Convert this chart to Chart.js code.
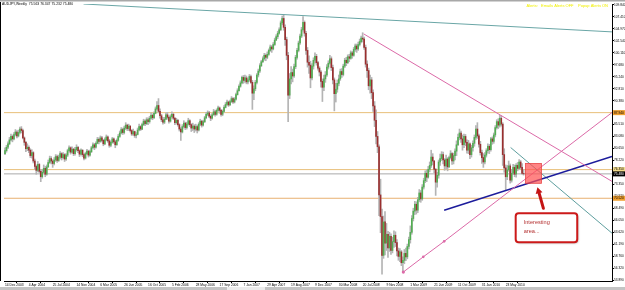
<!DOCTYPE html>
<html>
<head>
<meta charset="utf-8">
<script src="https://cdn.jsdelivr.net/npm/chart.js@4.4.0/dist/chart.umd.min.js"></script>
<style>
    html, body { margin: 0; padding: 0; background: #fff; }
    #myChart { display: block; }
</style>
</head>
<body>
<canvas id="myChart" width="625" height="290"></canvas>
<script>
'use strict'

// x tick labels, one every 16 weekly bars
var weekLabels = ['14 Dec 2003', '4 Apr 2004', '25 Jul 2004', '14 Nov 2004', '6 Mar 2005', '26 Jun 2005',
    '16 Oct 2005', '5 Feb 2006', '28 May 2006', '17 Sep 2006', '7 Jan 2007', '29 Apr 2007', '19 Aug 2007',
    '9 Dec 2007', '30 Mar 2008', '20 Jul 2008', '9 Nov 2008', '1 Mar 2009', '21 Jun 2009', '11 Oct 2009',
    '31 Jan 2010', '23 May 2010'];

var priceTicks = [109.840, 107.410, 104.970, 102.540, 100.110, 97.680, 95.240, 92.810, 90.380, 87.950,
    85.510, 83.080, 80.650, 78.220, 75.780, 73.350, 70.920, 68.490, 66.050, 63.620, 61.190, 58.760,
    56.320, 53.890];

// AUDJPY weekly candles (open of a week = close of the week before)
var firstOpen = 79.6;
var closes = [
    80.2, 80.9, 81.6, 82.4, 83.1, 82.6, 83.5, 84.0, 83.2, 83.9, 84.6, 84.3, 82.8, 81.9, 80.6, 80.9,
    80.3, 79.2, 79.8, 78.1, 77.0, 76.2, 77.4, 76.0, 74.9, 75.8, 76.6, 75.4, 76.9, 77.8, 78.6, 78.1,
    77.6, 78.3, 79.0, 78.2, 78.9, 79.6, 78.8, 79.4, 78.5, 79.3, 80.2, 80.8, 79.9, 80.5, 79.6, 80.4,
    80.9, 80.2, 79.5, 80.3, 79.4, 78.7, 79.6, 80.1, 79.3, 80.0, 80.8, 81.4, 80.9, 81.7, 82.5, 82.1,
    82.8, 82.3, 81.6, 82.4, 83.0, 82.2, 81.3, 81.9, 82.6, 82.0, 81.4, 82.3, 83.1, 83.8, 84.5, 83.9,
    84.8, 85.4, 84.7, 85.2, 84.3, 83.6, 84.1, 83.3, 83.5, 84.4, 85.1, 84.6, 85.5, 86.2, 85.7, 86.5,
    86.1, 86.8, 87.4, 86.9, 87.8, 88.7, 89.4, 88.2, 87.3, 86.5, 86.0, 86.6, 87.5, 87.0, 86.2, 87.1,
    87.6, 86.8, 85.9, 86.4, 85.5, 84.6, 84.0, 85.1, 85.8, 84.9, 85.6, 86.3, 85.5, 84.8, 85.2, 84.6,
    85.1, 84.4, 85.6, 86.2, 85.4, 86.1, 86.9, 87.6, 87.9, 87.2, 86.8, 87.5, 88.1, 87.6, 88.4, 88.9,
    88.4, 87.6, 88.2, 89.0, 89.6, 90.1, 89.5, 90.2, 90.8, 90.1, 90.7, 91.6, 92.4, 93.3, 94.0, 95.1,
    94.5, 95.0, 94.2, 94.6, 95.3, 94.1, 91.9, 92.8, 94.1, 95.6, 96.4, 97.5, 98.3, 98.9, 99.6, 99.2,
    99.8, 100.6, 101.3, 100.9, 101.8, 102.7, 103.4, 104.1, 104.8, 106.2, 107.1, 105.3, 102.8, 99.6, 91.5, 94.8,
    96.1, 95.4, 97.3, 99.2, 100.6, 102.1, 103.5, 104.8, 106.3, 104.1, 100.6, 98.2, 97.6, 95.0, 97.4, 98.6,
    99.4, 98.1, 97.0, 96.2, 94.3, 93.1, 94.8, 95.6, 97.2, 98.0, 98.9, 97.1, 94.6, 91.8, 92.7, 93.9,
    94.8, 96.3, 95.7, 97.4, 98.6, 98.1, 99.3, 99.0, 100.1, 99.6, 100.8, 101.5, 100.9, 101.8, 102.4, 103.1,
    102.9, 101.2, 97.8, 96.5, 93.4, 94.6, 92.0, 89.3, 86.4, 83.1, 81.0, 71.2, 66.8, 58.9, 65.7, 61.4,
    63.2, 60.4, 62.8, 59.9, 61.7, 63.0, 61.5, 59.8, 58.7, 59.6, 57.4, 57.9, 59.3, 58.6, 60.7, 62.1,
    63.6, 66.4, 67.9, 69.3, 68.1, 70.2, 71.6, 70.4, 72.8, 74.1, 75.6, 74.8, 76.4, 77.2, 78.9, 78.1,
    76.4, 73.8, 75.2, 77.9, 78.6, 79.4, 78.3, 77.1, 78.5, 76.9, 78.8, 79.6, 78.1, 79.2, 80.1, 81.4,
    82.9, 83.8, 82.6, 81.4, 83.1, 81.9, 80.3, 81.6, 79.4, 80.8, 81.7, 82.9, 84.6, 83.2, 81.5, 79.8,
    78.8, 77.9, 79.3, 80.2, 81.1, 80.4, 82.6, 82.1, 83.4, 84.9, 86.1, 85.4, 86.8, 85.6, 79.4, 76.7,
    74.9, 76.3, 77.1, 74.2, 75.6, 76.8, 75.4, 77.2, 76.6, 77.9, 76.8, 75.56, 75.48];
var highs = [
    80.8, 81.3, 82.0, 82.9, 83.6, 83.4, 83.9, 84.5, 84.3, 84.4, 85.0, 85.1, 84.6, 83.0, 82.1, 81.6,
    81.2, 80.6, 80.4, 80.0, 78.5, 77.3, 78.0, 77.6, 76.3, 76.4, 77.3, 77.0, 77.3, 78.3, 79.1, 79.0,
    78.4, 78.8, 79.4, 79.3, 79.3, 80.0, 79.8, 79.8, 79.6, 79.6, 80.5, 81.2, 81.0, 81.0, 80.7, 80.9,
    81.4, 81.1, 80.4, 80.6, 80.4, 79.6, 79.9, 80.5, 80.3, 80.3, 81.1, 81.8, 81.7, 82.0, 82.9, 82.8,
    83.2, 83.1, 82.5, 82.8, 83.4, 83.2, 82.5, 82.2, 82.9, 82.8, 82.3, 82.6, 83.5, 84.2, 84.9, 84.8,
    85.2, 85.9, 85.6, 85.6, 85.3, 84.5, 84.6, 84.2, 83.9, 84.8, 85.6, 85.3, 85.8, 86.6, 86.5, 86.9,
    86.9, 87.2, 87.9, 87.7, 88.1, 89.1, 90.2, 90.8, 88.7, 87.6, 87.0, 87.0, 87.9, 88.0, 87.3, 87.5,
    88.1, 87.8, 87.0, 86.8, 86.6, 85.7, 84.9, 85.5, 86.3, 86.0, 86.0, 86.8, 86.5, 85.7, 85.8, 85.5,
    85.6, 85.4, 85.9, 86.6, 86.4, 86.4, 87.2, 88.0, 88.3, 88.2, 87.5, 87.8, 88.6, 88.4, 88.7, 89.3,
    89.1, 88.6, 88.5, 89.4, 90.0, 90.5, 90.3, 90.5, 91.2, 91.0, 91.0, 91.9, 92.8, 93.6, 94.4, 95.4,
    95.5, 95.6, 95.4, 95.0, 95.7, 95.6, 94.5, 93.4, 94.5, 95.9, 96.8, 97.9, 98.6, 99.3, 100.0, 99.9,
    100.3, 100.9, 101.7, 101.6, 102.2, 103.1, 103.8, 104.5, 105.2, 106.6, 107.6, 107.8, 105.8, 103.3, 100.2, 95.9,
    97.3, 96.8, 97.8, 99.6, 101.0, 102.5, 103.9, 105.3, 107.5, 106.6, 104.5, 101.2, 99.5, 98.4, 97.9, 99.1,
    100.1, 99.8, 98.4, 97.3, 96.5, 94.8, 95.6, 96.3, 97.7, 98.5, 99.6, 99.3, 97.6, 95.0, 93.9, 94.6,
    95.6, 96.8, 96.9, 97.8, 99.0, 99.2, 99.7, 99.8, 100.5, 100.4, 101.2, 101.9, 101.9, 102.3, 102.9, 103.5,
    104.2, 103.3, 101.7, 98.5, 97.0, 95.6, 95.1, 92.6, 90.2, 88.5, 84.1, 81.4, 74.4, 68.3, 66.9, 67.8,
    65.4, 63.8, 63.6, 63.3, 62.6, 63.9, 63.7, 62.1, 60.4, 60.3, 59.9, 58.6, 60.1, 60.4, 61.2, 62.6,
    64.9, 67.0, 68.5, 69.9, 69.8, 70.7, 72.3, 72.1, 73.3, 74.6, 76.1, 76.3, 77.0, 77.9, 80.3, 79.6,
    78.2, 76.6, 75.8, 78.3, 79.5, 80.0, 79.9, 78.6, 79.3, 78.8, 79.1, 80.2, 79.8, 79.7, 80.6, 82.2,
    83.6, 84.6, 84.2, 83.4, 83.6, 83.5, 82.4, 82.3, 81.8, 81.3, 82.2, 83.4, 85.3, 85.9, 83.6, 82.1,
    80.3, 79.6, 79.8, 80.6, 81.6, 81.5, 82.9, 83.0, 83.8, 85.3, 86.5, 86.7, 87.4, 87.3, 85.9, 80.6,
    77.3, 77.2, 78.1, 77.5, 76.4, 77.4, 77.3, 77.6, 77.8, 78.4, 78.2, 77.6, 76.35];
var lows = [
    79.4, 79.9, 80.6, 81.4, 82.2, 82.0, 82.4, 83.2, 82.8, 83.0, 83.6, 83.8, 82.6, 81.3, 80.0, 80.2,
    79.8, 78.8, 78.7, 77.7, 76.4, 75.4, 75.9, 75.7, 73.9, 74.6, 75.6, 74.9, 75.2, 76.8, 77.6, 77.5,
    76.8, 77.3, 78.0, 77.8, 78.0, 78.5, 78.3, 78.5, 78.0, 78.2, 79.0, 79.9, 79.5, 79.7, 79.2, 79.3,
    80.1, 79.8, 79.0, 79.3, 79.0, 78.3, 78.5, 79.4, 78.9, 79.1, 79.8, 80.6, 80.4, 80.7, 81.6, 81.6,
    81.9, 82.0, 81.2, 81.4, 82.2, 81.9, 80.9, 81.0, 81.7, 81.7, 80.8, 81.3, 82.1, 82.9, 83.6, 83.5,
    83.6, 84.5, 84.3, 84.3, 84.0, 83.3, 83.3, 82.9, 82.8, 83.4, 84.2, 84.3, 84.5, 85.3, 85.3, 85.5,
    85.5, 85.8, 86.6, 86.5, 86.7, 87.7, 88.5, 87.9, 86.8, 86.1, 85.6, 85.7, 86.5, 86.6, 85.8, 86.0,
    86.8, 86.5, 85.5, 85.6, 85.2, 84.2, 82.3, 83.8, 84.8, 84.5, 84.6, 85.4, 85.1, 84.1, 84.3, 83.9,
    84.2, 83.8, 84.2, 85.3, 85.0, 85.2, 85.9, 86.7, 87.3, 86.9, 86.3, 86.6, 87.4, 87.2, 87.4, 88.2,
    87.8, 87.2, 87.3, 88.0, 88.9, 89.4, 89.2, 89.4, 90.0, 89.8, 89.9, 90.5, 91.5, 92.3, 93.1, 93.8,
    93.9, 94.1, 93.8, 93.8, 94.3, 93.9, 88.6, 90.6, 92.4, 93.8, 95.2, 96.1, 97.3, 98.1, 98.6, 98.5,
    98.9, 99.6, 100.4, 100.2, 100.7, 101.6, 102.6, 103.0, 103.9, 104.6, 105.8, 104.7, 101.6, 98.7, 86.1, 90.8,
    93.8, 94.2, 95.1, 96.9, 98.8, 100.3, 101.8, 103.2, 104.5, 103.5, 99.8, 97.2, 95.9, 93.0, 94.6, 96.8,
    98.0, 97.6, 96.6, 95.4, 93.1, 90.2, 92.4, 94.1, 95.3, 96.8, 97.8, 96.5, 93.8, 88.3, 90.1, 92.1,
    93.4, 94.5, 95.1, 95.4, 97.1, 97.5, 97.9, 98.3, 98.8, 99.0, 99.4, 100.4, 100.2, 100.6, 101.5, 102.1,
    102.3, 100.8, 97.2, 95.1, 92.6, 91.9, 90.8, 88.2, 85.1, 81.6, 79.8, 67.0, 63.5, 55.1, 58.3, 59.0,
    59.9, 58.5, 59.7, 59.1, 59.4, 60.5, 60.7, 58.8, 57.9, 57.6, 56.8, 55.5, 57.2, 57.8, 58.2, 60.2,
    61.4, 63.2, 65.9, 67.2, 67.3, 67.6, 69.8, 69.7, 70.1, 72.4, 73.7, 73.9, 74.6, 75.9, 76.8, 77.3,
    75.7, 71.1, 72.8, 74.6, 77.2, 78.2, 77.5, 76.2, 76.5, 76.1, 76.8, 78.5, 77.4, 77.5, 78.3, 79.2,
    81.2, 82.4, 81.9, 80.3, 80.8, 81.2, 79.7, 79.6, 78.6, 78.9, 80.1, 81.1, 82.5, 82.7, 80.9, 79.3,
    77.6, 76.8, 77.5, 78.9, 79.7, 79.6, 80.1, 81.5, 81.7, 83.0, 84.6, 84.7, 85.0, 85.2, 77.2, 75.8,
    72.2, 74.3, 76.0, 73.6, 73.8, 75.3, 74.9, 74.8, 76.1, 76.4, 76.5, 75.4, 75.23];

// horizontal levels: price, colour, start bar
var levelPrices = [87.94, 76.35, 75.48, 70.52];
var levelColors = ['#e8bf7a', '#e8bf7a', '#a9a9a9', '#e8b070'];
var levelLabelColors = ['#f0a030', '#f2dc8c', '#000000', '#f0a030'];

// trend lines as [bar, price] end points
var tealTop = [[52.7, 110.04], [407.3, 104.37]];
var pinkDown = [[240.7, 103.96], [407.3, 73.96]];
var pinkUp = [[267.3, 55.51], [280.7, 58.60], [294.7, 61.75], [407.3, 87.95]];
var navyLine = [[294.7, 68.08], [407.3, 79.03]];
var tealDown = [[339.3, 80.85], [407.3, 63.42]];

// annotations in bar/price units
var zoneBox = [349.3, 360.0, 77.61, 73.56];
var noteBox = [342.7, 384.0, 67.47, 61.59];
var noteArrow = [[361.3, 68.48], [357.3, 72.74]];
var noteText = ['Interesting', 'area...'];

var opens = closes.map(function (c, i) { return i === 0 ? firstOpen : closes[i - 1]; });

var wicks = [], upBodies = [], downBodies = [];
for (var i = 0; i < closes.length; i++) {
    wicks.push({ x: i, y: [lows[i], highs[i]] });
    if (closes[i] >= opens[i]) {
        upBodies.push({ x: i, y: [opens[i], closes[i]] });
    } else {
        downBodies.push({ x: i, y: [closes[i], opens[i]] });
    }
}

function toPts(arr) {
    return arr.map(function (p) { return { x: p[0], y: p[1] }; });
}

var xMin = -0.67, xMax = 407.33;

var datasets = [
    { type: 'bar', data: wicks, backgroundColor: '#b4b4b4', barThickness: 1, grouped: false, order: 3 },
    { type: 'bar', data: upBodies, backgroundColor: '#52ad52', barThickness: 1, grouped: false, order: 2 },
    { type: 'bar', data: downBodies, backgroundColor: '#9a2f2f', barThickness: 1, grouped: false, order: 2 }
];

levelPrices.forEach(function (p, k) {
    datasets.push({
        type: 'line', data: [{ x: xMin, y: p }, { x: xMax, y: p }],
        borderColor: levelColors[k], borderWidth: 1, pointRadius: 0, order: 4
    });
});

function trend(pts, color, width, radius) {
    return {
        type: 'line', data: toPts(pts), borderColor: color, backgroundColor: color,
        borderWidth: width, pointRadius: radius || 0, pointBorderWidth: 0, order: 1
    };
}
datasets.push(trend(tealTop, '#6aa6a6', 1));
datasets.push(trend(pinkDown, '#dc6aa8', 1));
datasets.push(trend(pinkUp, '#dc6aa8', 1, [1.6, 1.3, 1.3, 0]));
datasets.push(trend(navyLine, '#1c1c9c', 1.6));
datasets.push(trend(tealDown, '#5e9e9e', 1));

var frame = {
    id: 'frame',
    beforeDraw: function (chart) {
        var c = chart.ctx, a = chart.chartArea;
        c.save();
        c.fillStyle = '#ffffff';
        c.fillRect(0, 0, chart.width, chart.height);
        c.fillStyle = '#a8a8a8';
        c.fillRect(0, 0, chart.width, 1.5);
        c.fillStyle = '#c4c4c4';
        c.fillRect(0, 287, chart.width, 3);
        c.fillStyle = '#ececec';
        c.fillRect(227, 287, 38, 3);
        c.strokeStyle = '#000';
        c.lineWidth = 1;
        c.beginPath();
        c.moveTo(0.5, 2);
        c.lineTo(0.5, a.bottom);
        c.stroke();
        c.restore();
    },
    afterDraw: function (chart) {
        var c = chart.ctx, a = chart.chartArea;
        var xs = chart.scales.x, ys = chart.scales.y;
        c.save();

        // header texts
        c.font = '3.4px "Liberation Sans"';
        c.fillStyle = '#000';
        c.textBaseline = 'middle';
        c.textAlign = 'left';
        c.fillText('AUDJPY,Weekly  75.563 76.347 75.232 75.480', 2, 4.5);
        c.font = '4px "Liberation Sans"';
        c.fillStyle = '#f2f000';
        c.textAlign = 'right';
        c.fillText('Alerts:   Emails Alerts OFF    Popup Alerts ON', a.right - 4, 6);

        // price labels on the axis
        c.font = '3.2px "Liberation Sans"';
        c.textAlign = 'left';
        levelPrices.forEach(function (p, k) {
            var y = ys.getPixelForValue(p);
            c.fillStyle = levelLabelColors[k];
            c.fillRect(a.right + 1, y - 2.5, chart.width - a.right - 1, 5);
            c.fillStyle = k === 2 ? '#fff' : '#000';
            c.fillText(p.toFixed(3), a.right + 2, y);
        });

        // interesting zone
        var x0 = xs.getPixelForValue(zoneBox[0]), x1 = xs.getPixelForValue(zoneBox[1]);
        var y0 = ys.getPixelForValue(zoneBox[2]), y1 = ys.getPixelForValue(zoneBox[3]);
        c.fillStyle = 'rgba(255, 80, 80, 0.7)';
        c.fillRect(x0, y0, x1 - x0, y1 - y0);
        c.strokeStyle = 'rgba(230, 60, 60, 0.9)';
        c.lineWidth = 0.8;
        c.strokeRect(x0, y0, x1 - x0, y1 - y0);

        // arrow
        var ax = xs.getPixelForValue(noteArrow[0][0]), ay = ys.getPixelForValue(noteArrow[0][1]);
        var hx = xs.getPixelForValue(noteArrow[1][0]), hy = ys.getPixelForValue(noteArrow[1][1]);
        var ang = Math.atan2(hy - ay, hx - ax);
        c.strokeStyle = '#c41414';
        c.fillStyle = '#c41414';
        c.lineWidth = 3;
        c.lineCap = 'round';
        c.beginPath();
        c.moveTo(ax, ay);
        c.lineTo(hx - 4 * Math.cos(ang), hy - 4 * Math.sin(ang));
        c.stroke();
        c.beginPath();
        c.moveTo(hx, hy);
        c.lineTo(hx - 6 * Math.cos(ang) + 3.5 * Math.sin(ang), hy - 6 * Math.sin(ang) - 3.5 * Math.cos(ang));
        c.lineTo(hx - 6 * Math.cos(ang) - 3.5 * Math.sin(ang), hy - 6 * Math.sin(ang) + 3.5 * Math.cos(ang));
        c.closePath();
        c.fill();

        // callout
        var bx0 = xs.getPixelForValue(noteBox[0]), bx1 = xs.getPixelForValue(noteBox[1]);
        var by0 = ys.getPixelForValue(noteBox[2]), by1 = ys.getPixelForValue(noteBox[3]);
        c.shadowColor = 'rgba(0, 0, 0, 0.35)';
        c.shadowBlur = 2;
        c.shadowOffsetX = 1;
        c.shadowOffsetY = 1;
        c.beginPath();
        c.roundRect(bx0, by0, bx1 - bx0, by1 - by0, 3);
        c.fillStyle = '#fff';
        c.fill();
        c.shadowColor = 'transparent';
        c.strokeStyle = '#cc1a1a';
        c.lineWidth = 2;
        c.stroke();
        c.font = '5.6px "Liberation Sans"';
        c.fillStyle = '#b43030';
        c.textAlign = 'left';
        c.fillText(noteText[0], bx0 + 8, by0 + 9);
        c.fillText(noteText[1], bx0 + 8, by0 + 18);

        c.restore();
    }
};

var ctx = document.getElementById('myChart').getContext('2d');

var chart = new Chart(ctx, {
    type: 'bar',
    data: { datasets: datasets },
    options: {
        responsive: false,
        animation: false,
        devicePixelRatio: 1,
        layout: { padding: { top: 3, bottom: 3, left: 0, right: 0 } },
        plugins: {
            legend: { display: false },
            tooltip: { enabled: false }
        },
        scales: {
            x: {
                type: 'linear',
                offset: false,
                min: xMin,
                max: xMax,
                afterBuildTicks: function (scale) {
                    scale.ticks = weekLabels.map(function (l, k) { return { value: k * 16 }; });
                },
                afterFit: function (scale) { scale.height = 6; },
                ticks: {
                    autoSkip: false,
                    maxRotation: 0,
                    align: 'start',
                    padding: 0,
                    color: '#000',
                    font: { family: 'Liberation Sans', size: 3.3 },
                    callback: function (v, k) { return weekLabels[k]; }
                },
                grid: { drawOnChartArea: false, tickLength: 2, color: '#000' },
                border: { display: true, color: '#000' }
            },
            y: {
                type: 'linear',
                position: 'right',
                min: 53.687,
                max: 110.043,
                afterBuildTicks: function (scale) {
                    scale.ticks = priceTicks.map(function (p) { return { value: p }; });
                },
                afterFit: function (scale) { scale.width = 13; },
                ticks: {
                    padding: 0,
                    color: '#000',
                    font: { family: 'Liberation Sans', size: 3.2 },
                    callback: function (v) { return v.toFixed(3); }
                },
                grid: { drawOnChartArea: false, tickLength: 2, color: '#000' },
                border: { display: true, color: '#000' }
            }
        }
    },
    plugins: [frame]
});
</script>
</body>
</html>
